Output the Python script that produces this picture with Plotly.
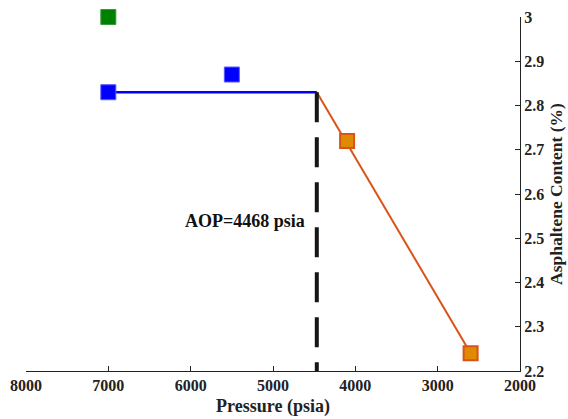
import plotly.graph_objects as go

# Data
aop_pressure = 4468
aop_label = "AOP=4468 psia"
blue_line_x = [7000, 4468]
blue_line_y = [2.83, 2.83]
orange_line_x = [4468, 2600]
orange_line_y = [2.83, 2.24]
blue_pts_x = [7000, 5500]
blue_pts_y = [2.83, 2.87]
green_pts_x = [7000]
green_pts_y = [3.0]
orange_pts_x = [4100, 2600]
orange_pts_y = [2.72, 2.24]
x_ticks = [8000, 7000, 6000, 5000, 4000, 3000, 2000]
y_ticks = [2.2, 2.3, 2.4, 2.5, 2.6, 2.7, 2.8, 2.9, 3.0]
y_ticklabels = ["2.2", "2.3", "2.4", "2.5", "2.6", "2.7", "2.8", "2.9", "3"]

FONT = "Liberation Serif"
BLUE = "#0000FF"
ORANGE_LINE = "#D95319"
ORANGE_FILL = "#E08A00"
GREEN = "#008000"

fig = go.Figure()
fig.add_trace(go.Scatter(x=blue_line_x, y=blue_line_y, mode="lines",
                         line=dict(color=BLUE, width=2.5), showlegend=False))
fig.add_trace(go.Scatter(x=orange_line_x, y=orange_line_y, mode="lines",
                         line=dict(color=ORANGE_LINE, width=2), showlegend=False))
fig.add_trace(go.Scatter(x=[aop_pressure, aop_pressure], y=[blue_line_y[-1], y_ticks[0]],
                         mode="lines", line=dict(color="#161616", width=4, dash="30px,15px"),
                         showlegend=False))
fig.add_trace(go.Scatter(x=blue_pts_x, y=blue_pts_y, mode="markers",
                         marker=dict(symbol="square", size=15, color=BLUE,
                                     line=dict(color="rgba(90,90,255,1)", width=1)),
                         showlegend=False))
fig.add_trace(go.Scatter(x=green_pts_x, y=green_pts_y, mode="markers", cliponaxis=False,
                         marker=dict(symbol="square", size=15, color=GREEN,
                                     line=dict(color="rgba(60,150,60,1)", width=1)),
                         showlegend=False))
fig.add_trace(go.Scatter(x=orange_pts_x, y=orange_pts_y, mode="markers", cliponaxis=False,
                         marker=dict(symbol="square", size=14, color=ORANGE_FILL,
                                     line=dict(color=ORANGE_LINE, width=2)),
                         showlegend=False))

fig.add_annotation(x=5340, y=2.54, text=f"<b>{aop_label}</b>", showarrow=False,
                   font=dict(family=FONT, size=18, color="#111111"))

fig.update_layout(
    width=568, height=419,
    margin=dict(l=26, r=48, t=17, b=48),
    plot_bgcolor="white", paper_bgcolor="white",
    font=dict(family=FONT, color="#222222"),
    xaxis=dict(range=[8000, 2000], tickvals=x_ticks, ticktext=[f"<b>{v}</b>" for v in x_ticks],
               ticks="inside", ticklen=5, tickcolor="#222", showline=True, linecolor="#222",
               linewidth=1, showgrid=False, zeroline=False, automargin=False,
               tickfont=dict(family=FONT, size=16, color="#222"),
               title=dict(text="<b>Pressure (psia)</b>", font=dict(family=FONT, size=18, color="#222"),
                          standoff=6)),
    yaxis=dict(range=[2.2, 3.0], side="right", tickvals=y_ticks,
               ticktext=[f"<b>{t}</b>" for t in y_ticklabels],
               ticks="inside", ticklen=5, tickcolor="#222", showline=True, linecolor="#222",
               linewidth=1, showgrid=False, zeroline=False, automargin=False,
               tickfont=dict(family=FONT, size=16, color="#222"),
               title=dict(text="<b>Asphaltene Content (%)</b>",
                          font=dict(family=FONT, size=17.5, color="#222"), standoff=6)),
)

fig.write_html("out.html")
